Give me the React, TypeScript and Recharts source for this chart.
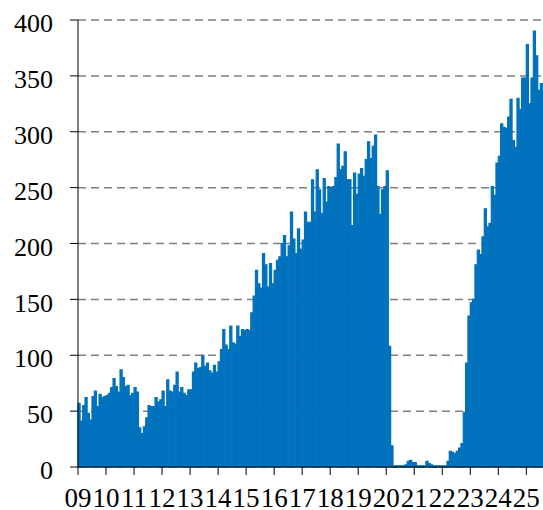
import { Bar, BarChart, CartesianGrid, XAxis, YAxis } from 'recharts'

// year tick labels, one per January
const yearLabels = ['09', '10', '11', '12', '13', '14', '15', '16', '17', '18', '19', '20', '21', '22', '23', '24', '25']

// monthly values
const y2009 = [57, 41, 55, 62, 48, 42, 63, 68, 54, 65, 62, 63]
const y2010 = [64, 66, 71, 79, 72, 67, 87, 80, 72, 73, 64, 66]
const y2011 = [71, 67, 35, 30, 36, 44, 55, 54, 54, 62, 58, 60]
const y2012 = [68, 54, 78, 68, 67, 73, 85, 67, 71, 66, 64, 69]
const y2013 = [69, 85, 93, 88, 89, 100, 90, 93, 86, 84, 91, 85]
const y2014 = [94, 105, 123, 109, 105, 126, 111, 110, 126, 117, 123, 122]
const y2015 = [123, 122, 138, 153, 176, 164, 160, 191, 181, 161, 182, 164]
const y2016 = [176, 185, 188, 200, 207, 188, 198, 228, 204, 191, 213, 195]
const y2017 = [203, 228, 219, 219, 257, 228, 266, 248, 227, 258, 237, 251]
const y2018 = [250, 251, 259, 289, 266, 269, 282, 257, 257, 216, 263, 244]
const y2019 = [262, 267, 260, 275, 291, 276, 287, 297, 251, 226, 248, 251]
const y2020 = [265, 108, 19, 1, 1, 1, 1, 1, 2, 5, 6, 4]
const y2021 = [4, 1, 1, 1, 1, 5, 3, 2, 1, 1, 1, 1]
const y2022 = [1, 1, 5, 14, 13, 12, 14, 17, 21, 49, 93, 135]
const y2023 = [147, 150, 181, 194, 190, 206, 231, 215, 218, 251, 243, 272]
const y2024 = [278, 307, 304, 303, 313, 329, 292, 286, 330, 320, 348, 348]
const y2025 = [378, 325, 348, 390, 368, 337, 343, 342]

const yTicks = [0, 50, 100, 150, 200, 250, 300, 350, 400]

const monthly = [
  ...y2009, ...y2010, ...y2011, ...y2012, ...y2013, ...y2014,
  ...y2015, ...y2016, ...y2017, ...y2018, ...y2019, ...y2020,
  ...y2021, ...y2022, ...y2023, ...y2024, ...y2025,
]

const data = monthly.map((v, i) => ({ x: i + 0.5, v }))
const nMonths = monthly.length

const chartWidth = 545
const axisWidth = 78
const barBlue = '#0072BD'

export default function App() {
  const font = 'Liberation Serif, Times New Roman, serif'
  return (
    <div
      style={{
        position: 'absolute',
        left: 0,
        top: 0,
        width: 543,
        height: 510,
        overflow: 'hidden',
        background: '#fff',
      }}
    >
      <BarChart
        width={chartWidth}
        height={510}
        data={data}
        margin={{ top: 20, right: 0, left: 0, bottom: 0 }}
        barCategoryGap={0}
      >
        <CartesianGrid
          vertical={false}
          stroke="#808080"
          strokeWidth={1.5}
          strokeDasharray="8 5"
        />
        <XAxis
          type="number"
          dataKey="x"
          domain={[0, nMonths]}
          ticks={yearLabels.map((_, i) => i * 12)}
          tickFormatter={(t: number) => yearLabels[Math.round(t / 12)]}
          interval={0}
          height={43}
          tickSize={8}
          tickMargin={13}
          axisLine={{ stroke: '#000' }}
          tickLine={{ stroke: '#000' }}
          tick={{ fill: '#000', fontSize: 27, fontFamily: font }}
        />
        <YAxis
          domain={[0, 400]}
          ticks={yTicks}
          interval={0}
          width={axisWidth}
          tickSize={8}
          tickMargin={17}
          axisLine={{ stroke: '#000' }}
          tickLine={{ stroke: '#000' }}
          tick={{ fill: '#000', fontSize: 26, fontFamily: font, dy: 3 }}
        />
        <Bar
          dataKey="v"
          fill={barBlue}
          stroke={barBlue}
          strokeWidth={1.2}
          barSize={(chartWidth - axisWidth) / nMonths}
          isAnimationActive={false}
        />
      </BarChart>
    </div>
  )
}
